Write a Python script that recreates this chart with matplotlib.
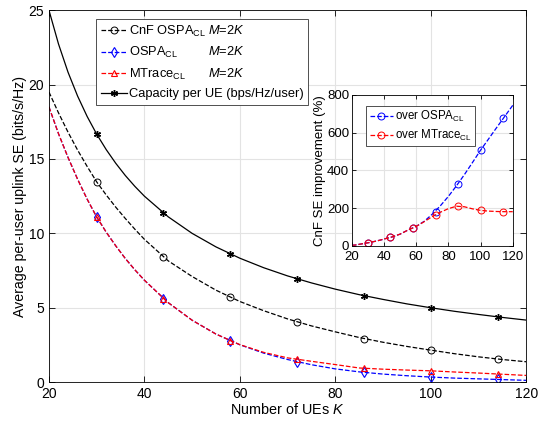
import numpy as np
import matplotlib
matplotlib.use("Agg")
import matplotlib.pyplot as plt
from matplotlib.lines import Line2D

plt.rcParams['font.family'] = ['Liberation Sans', 'DejaVu Sans']
plt.rcParams['mathtext.fontset'] = 'custom'
plt.rcParams['mathtext.rm'] = 'Liberation Sans'
plt.rcParams['mathtext.it'] = 'Liberation Sans:italic'

# curve samples (denser at small K where the curves bend)
K_line = [20, 22, 24, 26, 28, 30, 32, 34, 36, 38, 40, 45, 50, 55, 60, 65, 70, 75, 80, 85,
          90, 95, 100, 105, 110, 115, 120]
cap_line = [25.0, 22.73, 20.83, 19.23, 17.86, 16.67, 15.63, 14.71, 13.89, 13.16, 12.5, 11.11,
            10.0, 9.09, 8.33, 7.69, 7.14, 6.67, 6.25, 5.88, 5.56, 5.26, 5.0, 4.76, 4.55, 4.35,
            4.17]
cnf_line = [19.5, 18.1, 16.8, 15.6, 14.5, 13.46, 12.58, 11.76, 11.0, 10.28, 9.6, 8.15, 7.1,
            6.18, 5.42, 4.8, 4.25, 3.78, 3.38, 3.0, 2.68, 2.4, 2.15, 1.91, 1.70, 1.52, 1.37]
ospa_line = [18.5, 16.7, 15.1, 13.64, 12.3, 11.1, 10.08, 9.16, 8.31, 7.55, 6.85, 5.34, 4.16,
             3.23, 2.51, 1.95, 1.52, 1.17, 0.89, 0.69, 0.54, 0.43, 0.34, 0.27, 0.22, 0.17,
             0.12]
mtr_line = [18.5, 16.7, 15.1, 13.64, 12.3, 11.1, 10.08, 9.16, 8.31, 7.55, 6.85, 5.34, 4.16,
            3.23, 2.52, 2.0, 1.63, 1.4, 1.18, 0.95, 0.87, 0.81, 0.76, 0.68, 0.61, 0.53, 0.45]

# marker samples
K_mk = [30, 44, 58, 72, 86, 100, 114]
cap_mk = [16.67, 11.36, 8.62, 6.94, 5.81, 5.0, 4.39]
cnf_mk = [13.46, 8.38, 5.69, 4.05, 2.93, 2.15, 1.55]
ospa_mk = [11.1, 5.62, 2.78, 1.37, 0.65, 0.34, 0.18]
mtr_mk = [11.1, 5.62, 2.78, 1.55, 0.92, 0.76, 0.54]

# inset: improvement (%)
imp_ospa_line = [3, 4, 7, 10, 13, 16, 19, 23, 27, 31, 36, 47, 62, 84, 103, 130, 168, 212,
                 262, 318, 378, 442, 507, 567, 627, 686, 745]
imp_mtr_line = [3, 4, 7, 10, 13, 16, 19, 23, 27, 31, 36, 47, 62, 84, 103, 128, 155, 178, 197,
                210, 207, 196, 188, 184, 182, 181, 181]
imp_ospa_mk = [16, 45, 94, 181, 330, 507, 677]
imp_mtr_mk = [16, 45, 94, 163, 211, 188, 181]

asterisk = (6, 2, 0)

fig = plt.figure(figsize=(5.38, 4.26), dpi=100)
ax = fig.add_axes([0.091, 0.103, 0.887, 0.873])

ax.plot(K_line, cnf_line, '--', color='k', lw=0.9)
ax.plot(K_mk, cnf_mk, 'o', mfc='none', mec='k', ms=5, mew=0.7)
ax.plot(K_line, ospa_line, '--', color='b', lw=0.9)
ax.plot(K_mk, ospa_mk, 'd', mfc='none', mec='b', ms=5, mew=0.8)
ax.plot(K_line, mtr_line, '--', color='r', lw=0.9)
ax.plot(K_mk, mtr_mk, '^', mfc='none', mec='r', ms=5, mew=0.8)
ax.plot(K_line, cap_line, '-', color='k', lw=0.9)
ax.plot(K_mk, cap_mk, marker=asterisk, ls='none', color='k', ms=5, mew=1.0)

ax.set_xlim(20, 120)
ax.set_ylim(0, 25)
ax.set_xticks([20, 40, 60, 80, 100, 120])
ax.set_yticks([0, 5, 10, 15, 20, 25])
ax.grid(True, color='#e3e3e3', lw=0.8)
ax.set_axisbelow(True)
ax.tick_params(direction='in', top=True, right=True, labelsize=10, length=4, width=0.6)
for s in ax.spines.values():
    s.set_linewidth(0.6)
ax.set_xlabel('Number of UEs $K$', fontsize=10.4, labelpad=1)
ax.set_ylabel('Average per-user uplink SE (bits/s/Hz)', fontsize=10.2, labelpad=1)

handles = [
    Line2D([], [], ls='--', color='k', lw=0.9, marker='o', mfc='none', mec='k', ms=5, mew=0.7),
    Line2D([], [], ls='--', color='b', lw=0.9, marker='d', mfc='none', mec='b', ms=5, mew=0.8),
    Line2D([], [], ls='--', color='r', lw=0.9, marker='^', mfc='none', mec='r', ms=5, mew=0.8),
    Line2D([], [], ls='-', color='k', lw=0.9, marker=asterisk, ms=5, mew=1.0),
]
labels = ['CnF OSPA$_{\\mathrm{CL}}$', 'OSPA$_{\\mathrm{CL}}$', 'MTrace$_{\\mathrm{CL}}$',
          'Capacity per UE (bps/Hz/user)']
leg = ax.legend(handles, labels, loc='upper left', bbox_to_anchor=(0.099, 0.976),
                fontsize=9.3, handlelength=2.0, handletextpad=0.2, labelspacing=0.5,
                borderpad=0.35, borderaxespad=0.0, fancybox=False, framealpha=1,
                edgecolor='#333333')
leg.get_frame().set_linewidth(0.6)

# "M=2K" column aligned with the first three legend rows
fig.canvas.draw()
for t in leg.get_texts()[:3]:
    bb = t.get_window_extent()
    ytop = fig.transFigure.inverted().transform((0, bb.y1))[1]
    fig.text(208.0 / 538, ytop, '$M$=2$K$', fontsize=9.3, va='top', ha='left', zorder=10)

# inset
ins = fig.add_axes([0.654, 0.423, 0.299, 0.354])
ins.plot(K_line, imp_ospa_line, '--', color='b', lw=0.9)
ins.plot(K_mk, imp_ospa_mk, 'o', mfc='none', mec='b', ms=5, mew=0.7)
ins.plot(K_line, imp_mtr_line, '--', color='r', lw=0.9)
ins.plot(K_mk, imp_mtr_mk, 'o', mfc='none', mec='r', ms=5, mew=0.7)
ins.set_xlim(20, 120)
ins.set_ylim(0, 800)
ins.set_xticks([20, 40, 60, 80, 100, 120])
ins.set_yticks([0, 200, 400, 600, 800])
ins.grid(True, color='#e3e3e3', lw=0.8)
ins.set_axisbelow(True)
ins.tick_params(direction='in', top=True, right=True, labelsize=9.5, length=3, width=0.6,
                pad=2)
ins.tick_params(axis='x', pad=4)
for s in ins.spines.values():
    s.set_linewidth(0.6)
ins.set_ylabel('CnF SE improvement (%)', fontsize=9.5, labelpad=1)
ih = [
    Line2D([], [], ls='--', color='b', lw=0.9, marker='o', mfc='none', mec='b', ms=5, mew=0.7),
    Line2D([], [], ls='--', color='r', lw=0.9, marker='o', mfc='none', mec='r', ms=5, mew=0.7),
]
il = ins.legend(ih, ['over OSPA$_{\\mathrm{CL}}$', 'over MTrace$_{\\mathrm{CL}}$'],
                loc='upper left', bbox_to_anchor=(0.09, 0.93), fontsize=8.3,
                handlelength=2.0, handletextpad=0.2, labelspacing=0.3, borderpad=0.3,
                borderaxespad=0.0, fancybox=False, framealpha=1, edgecolor='#333333')
il.get_frame().set_linewidth(0.6)

fig.savefig('out.png', dpi=100)
